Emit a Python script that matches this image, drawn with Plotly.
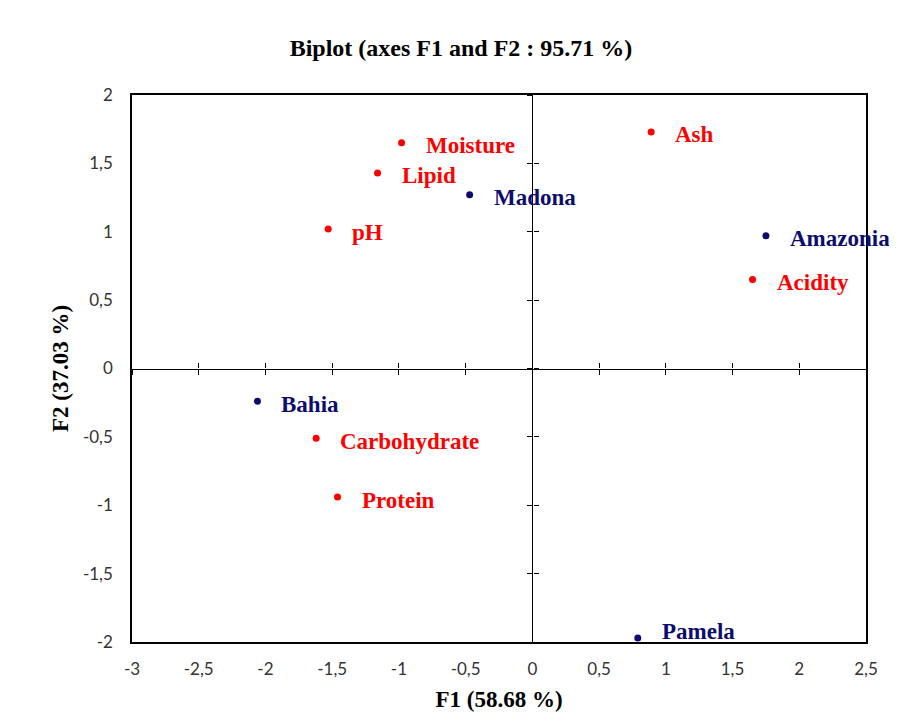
import plotly.graph_objects as go

# Variables (red) and observations (navy)
var_names = ["Moisture", "Lipid", "pH", "Ash", "Acidity", "Carbohydrate", "Protein"]
var_f1 = [-0.98, -1.16, -1.53, 0.89, 1.65, -1.62, -1.46]
var_f2 = [1.65, 1.43, 1.02, 1.73, 0.65, -0.51, -0.94]

obs_names = ["Madona", "Amazonia", "Bahia", "Pamela"]
obs_f1 = [-0.47, 1.75, -2.06, 0.79]
obs_f2 = [1.27, 0.97, -0.24, -1.97]

x_ticks = [-3, -2.5, -2, -1.5, -1, -0.5, 0, 0.5, 1, 1.5, 2, 2.5]
x_ticktext = ["-3", "-2,5", "-2", "-1,5", "-1", "-0,5", "0", "0,5", "1", "1,5", "2", "2,5"]
y_ticks = [-2, -1.5, -1, -0.5, 0, 0.5, 1, 1.5, 2]
y_ticktext = ["-2", "-1,5", "-1", "-0,5", "0", "0,5", "1", "1,5", "2"]

RED = "#FF0000"
NAVY = "#0C0C70"
XR = [-3, 2.5]
YR = [-2, 2]
SERIF = "Liberation Serif"

fig = go.Figure()
fig.add_trace(go.Scatter(x=var_f1, y=var_f2, mode="markers",
                         marker=dict(color=RED, size=7), hoverinfo="skip"))
fig.add_trace(go.Scatter(x=obs_f1, y=obs_f2, mode="markers",
                         marker=dict(color=NAVY, size=7), hoverinfo="skip"))


def label(n, x, y, color):
    # keep labels near the bottom frame inside the plot, as in the reference
    ys = 6 if y < YR[0] + 0.1 else -3
    fig.add_annotation(x=x, y=y, text="<b>%s</b>" % n, showarrow=False,
                       xanchor="left", yanchor="middle", xshift=22, yshift=ys,
                       font=dict(family=SERIF, size=23, color=color))


for n, x, y in zip(var_names, var_f1, var_f2):
    label(n, x, y, RED)
for n, x, y in zip(obs_names, obs_f1, obs_f2):
    label(n, x, y, NAVY)

tick_font = dict(family="Lato", size=17, color="#333333")
fpos_x = (0 - YR[0]) / (YR[1] - YR[0])
fpos_y = (0 - XR[0]) / (XR[1] - XR[0])

layout = dict(
    width=897, height=716,
    paper_bgcolor="white", plot_bgcolor="white",
    margin=dict(l=124, r=39, t=87, b=82, autoexpand=False),
    showlegend=False,
    title=dict(text="<b>Biplot (axes F1 and F2 : 95.71 %)</b>", x=0.505, xanchor="center",
               y=0.944, yanchor="middle",
               font=dict(family=SERIF, size=24, color="black")),
    xaxis=dict(range=XR, tickvals=x_ticks, ticktext=x_ticktext, showgrid=False,
               zeroline=False, showline=True, linecolor="black", linewidth=1.5, mirror=True,
               ticks="outside", ticklen=11, tickcolor="rgba(0,0,0,0)", tickfont=tick_font,
               automargin=False,
               title=dict(text="<b>F1 (58.68 %)</b>", standoff=13,
                          font=dict(family=SERIF, size=23, color="black"))),
    yaxis=dict(range=YR, tickvals=y_ticks, ticktext=y_ticktext, showgrid=False,
               zeroline=False, showline=True, linecolor="black", linewidth=1.5, mirror=True,
               ticks="outside", ticklen=14, tickcolor="rgba(0,0,0,0)", tickfont=tick_font,
               automargin=False,
               title=dict(text="<b>F2 (37.03 %)</b>", standoff=8,
                          font=dict(family=SERIF, size=23, color="black"))),
)
# Axes crossing at the origin, with crossing tick marks
for i, tk in zip((2, 3), ("outside", "inside")):
    layout["xaxis%d" % i] = dict(overlaying="x", anchor="free", position=fpos_x, range=XR,
                                 tickvals=x_ticks, showticklabels=False, showgrid=False,
                                 zeroline=False, showline=True, linecolor="black", linewidth=1.3,
                                 ticks=tk, ticklen=5, tickwidth=1.2, tickcolor="black")
    layout["yaxis%d" % i] = dict(overlaying="y", anchor="free", position=fpos_y, range=YR,
                                 tickvals=y_ticks, showticklabels=False, showgrid=False,
                                 zeroline=False, showline=True, linecolor="black", linewidth=1.3,
                                 ticks=tk, ticklen=5, tickwidth=1.2, tickcolor="black")
fig.update_layout(**layout)
for i in (2, 3):
    fig.add_trace(go.Scatter(x=[None], y=[None], xaxis="x%d" % i, yaxis="y%d" % i,
                             showlegend=False, hoverinfo="skip"))

fig.write_html("out.html")
